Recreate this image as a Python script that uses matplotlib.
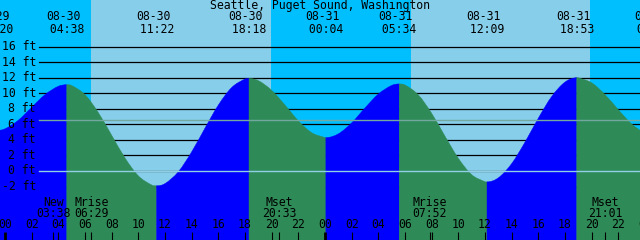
import matplotlib
matplotlib.use('Agg')
import matplotlib.pyplot as plt
from matplotlib.path import Path
from matplotlib.patches import PathPatch

title = "Seattle, Puget Sound, Washington"

# hourly tide level samples (ft), hours counted from 08-30 00:00
sample_hours = list(range(-1, 49))
sample_levels = [5.25, 5.43, 6.53, 8.19, 9.82, 10.90,
                 11.00, 9.82, 7.51, 4.60, 1.68, -0.62, -1.80,
                 -1.62, -0.10, 2.46, 5.52, 8.48, 10.74, 11.84,
                 11.63, 10.38, 8.48, 6.46, 4.93, 4.30,
                 4.78, 6.19, 8.11, 9.90, 11.01,
                 11.07, 9.79, 7.42, 4.48, 1.64, -0.47, -1.38,
                 -0.88, 0.95, 3.71, 6.80, 9.58, 11.44,
                 11.99, 11.35, 9.83, 7.88, 6.05, 4.86]

# high / low tides
tide_dates = ["08-29", "08-30", "08-30", "08-30", "08-31", "08-31", "08-31", "08-31", "09-01"]
tide_times = ["23:20", "04:38", "11:22", "18:18", "00:04", "05:34", "12:09", "18:53", "00:42"]
tide_levels = [5.2, 11.1, -1.9, 11.9, 4.3, 11.2, -1.4, 12.0, 4.6]

# moon events
moon_names = ["New", "Mrise", "Mset", "Mrise", "Mset"]
moon_dates = ["08-30", "08-30", "08-30", "08-31", "08-31"]
moon_times = ["03:38", "06:29", "20:33", "07:52", "21:01"]

# daylight intervals
day_dates = ["08-30", "08-31"]
sunrise_times = ["06:27", "06:27"]
sunset_times = ["19:57", "19:52"]

grid_levels = [16, 14, 12, 10, 8, 6, 4, 2, 0, -2]
datum_level = 0.0
msl_level = 6.56
hour_ticks = list(range(0, 49, 2))

day_index = {"08-29": -1, "08-30": 0, "08-31": 1, "09-01": 2}


def to_hours(d, t):
    hh, mm = t.split(":")
    return 24 * day_index[d] + int(hh) + int(mm) / 60.0


tide_hours = [to_hours(d, t) for d, t in zip(tide_dates, tide_times)]
moon_hours = [to_hours(d, t) for d, t in zip(moon_dates, moon_times)]

W, H = 640, 240
fig = plt.figure(figsize=(6.4, 2.4), dpi=100)
ax = fig.add_axes([0, 0, 1, 1])
ax.axis('off')
x0, x1 = -0.375, 47.625
y0, y1 = -8.88, 22.0
ax.set_xlim(x0, x1)
ax.set_ylim(y0, y1)

NIGHT = '#00BFFF'
DAY = '#87CEEB'
RISE = '#0000FF'
FALL = '#2E8B57'

ax.axvspan(x0 - 2, x1 + 2, color=NIGHT, lw=0, zorder=0)
for d, sr, ss in zip(day_dates, sunrise_times, sunset_times):
    ax.axvspan(to_hours(d, sr), to_hours(d, ss), color=DAY, lw=0, zorder=0.5)

for L in grid_levels:
    ax.axhline(L, xmin=39 / W, xmax=1, color='black', lw=0.9, zorder=1)

# merged series (samples + extremes), smooth rendering with Hermite tangents
pts = sorted(list(zip(sample_hours, sample_levels)) + list(zip(tide_hours, tide_levels)))
ts = [p[0] for p in pts]
ls = [p[1] for p in pts]
n = len(ts)
ext_set = set(round(h, 6) for h in tide_hours)
slopes = []
for i in range(n):
    if round(ts[i], 6) in ext_set:
        slopes.append(0.0)
    elif i == 0:
        slopes.append((ls[1] - ls[0]) / (ts[1] - ts[0]))
    elif i == n - 1:
        slopes.append((ls[-1] - ls[-2]) / (ts[-1] - ts[-2]))
    else:
        slopes.append((ls[i + 1] - ls[i - 1]) / (ts[i + 1] - ts[i - 1]))

bounds = [ts[0]] + tide_hours + [ts[-1]]
for k in range(len(bounds) - 1):
    a, b = bounds[k], bounds[k + 1]
    idx = [i for i in range(n) if a - 1e-9 <= ts[i] <= b + 1e-9]
    if len(idx) < 2:
        continue
    rising = ls[idx[-1]] > ls[idx[0]]
    verts = [(ts[idx[0]], ls[idx[0]])]
    codes = [Path.MOVETO]
    for i, j in zip(idx[:-1], idx[1:]):
        dt = ts[j] - ts[i]
        verts += [(ts[i] + dt / 3, ls[i] + slopes[i] * dt / 3),
                  (ts[j] - dt / 3, ls[j] - slopes[j] * dt / 3),
                  (ts[j], ls[j])]
        codes += [Path.CURVE4] * 3
    verts += [(ts[idx[-1]], y0 - 1), (ts[idx[0]], y0 - 1), (ts[idx[0]], ls[idx[0]])]
    codes += [Path.LINETO, Path.LINETO, Path.CLOSEPOLY]
    ax.add_patch(PathPatch(Path(verts, codes), facecolor=RISE if rising else FALL,
                           edgecolor=RISE if rising else FALL, lw=0.3, zorder=2))

ax.axhline(datum_level, xmin=39 / W, xmax=1, color='#90cfe6', lw=1.0, zorder=3)
ax.axhline(msl_level, xmin=39 / W, xmax=1, color='#72a8a0', lw=1.0, zorder=3)

font = dict(family='DejaVu Sans Mono', size=8.3, color='black')
tb = ax.get_xaxis_transform()  # x data, y axes
ta = ax.get_yaxis_transform()  # x axes, y data

ax.text(0.5, 1 - 5 / H, title, transform=ax.transAxes, ha='center', va='center', zorder=5, **font)

for L in grid_levels:
    ax.text(36 / W, L, f"{L} ft", transform=ta, ha='right', va='center', zorder=5, **font)

for h, d, t in zip(tide_hours, tide_dates, tide_times):
    xc = h - 0.25
    ax.text(xc, 1 - 17 / H, d, transform=tb, ha='center', va='center', zorder=5, **font)
    ax.text(xc, 1 - 29.5 / H, " " + t, transform=tb, ha='center', va='center', zorder=5, **font)

for h, nm, t in zip(moon_hours, moon_names, moon_times):
    ax.text(h, 1 - 202 / H, nm, transform=tb, ha='center', va='center', zorder=5, **font)
    ax.text(h, 1 - 213.3 / H, t, transform=tb, ha='center', va='center', zorder=5, **font)
    ax.vlines(h, 0, 8 / H, transform=tb, color='black', lw=0.8, zorder=5)

for h in hour_ticks:
    ax.text(h, 1 - 225 / H, f"{h % 24:02d}", transform=tb, ha='center', va='center', zorder=5, **font)
    lw = 2.0 if h % 24 == 0 else 0.8
    ax.vlines(h, 0, 8 / H, transform=tb, color='black', lw=lw, zorder=5)

fig.savefig('out.png', dpi=100)
